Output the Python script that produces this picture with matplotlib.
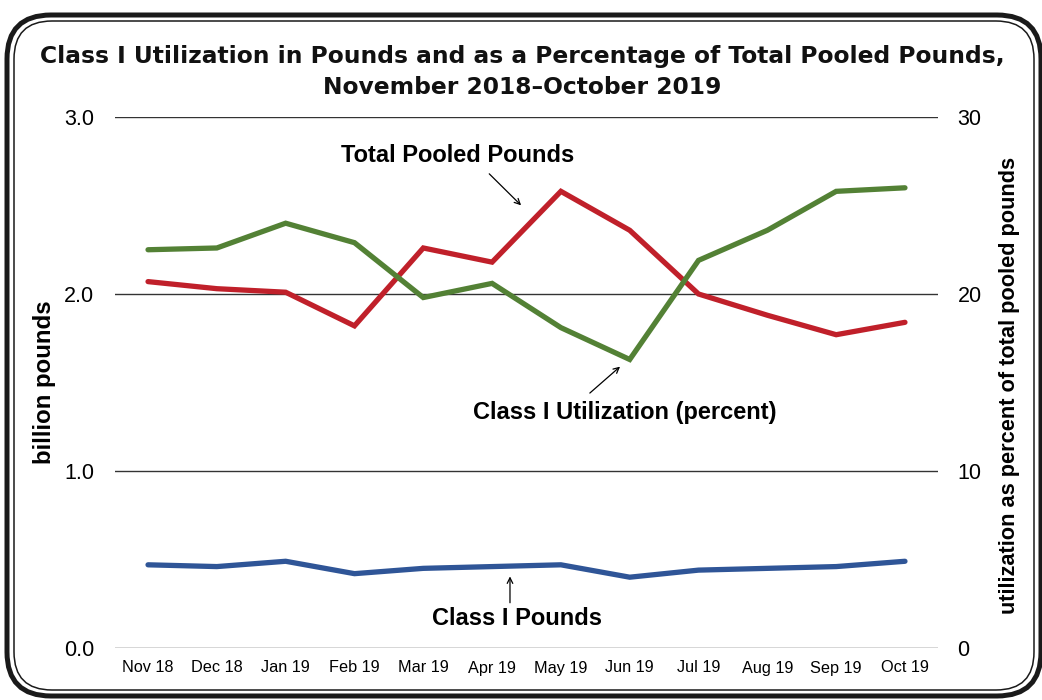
import matplotlib.pyplot as plt
from matplotlib.patches import FancyBboxPatch

# data
months = ['Nov 18', 'Dec 18', 'Jan 19', 'Feb 19', 'Mar 19', 'Apr 19',
          'May 19', 'Jun 19', 'Jul 19', 'Aug 19', 'Sep 19', 'Oct 19']
total_pooled = [2.07, 2.03, 2.01, 1.82, 2.26, 2.18, 2.58, 2.36, 2.00, 1.88, 1.77, 1.84]
class1_pounds = [0.47, 0.46, 0.49, 0.42, 0.45, 0.46, 0.47, 0.40, 0.44, 0.45, 0.46, 0.49]
class1_pct = [22.5, 22.6, 24.0, 22.9, 19.8, 20.6, 18.1, 16.3, 21.9, 23.6, 25.8, 26.0]

red = '#C0202A'
green = '#538135'
blue = '#2F5597'
lab_font = ['Liberation Sans', 'DejaVu Sans']

fig = plt.figure(figsize=(10.42, 7), dpi=100)

# background frame (pixel coords)
bg = fig.add_axes([0, 0, 1, 1], zorder=0)
bg.set_xlim(0, 1042)
bg.set_ylim(700, 0)
bg.axis('off')
bg.add_patch(FancyBboxPatch((7, 15), 1034, 681, boxstyle='round,pad=0,rounding_size=44',
                            fill=False, ec='#1a1a1a', lw=3.6))
bg.add_patch(FancyBboxPatch((14, 21), 1020, 669, boxstyle='round,pad=0,rounding_size=38',
                            fill=False, ec='#1a1a1a', lw=1.1))

fig.text(522/1042, 1 - 57/700, 'Class I Utilization in Pounds and as a Percentage of Total Pooled Pounds,',
         ha='center', va='center', fontsize=16.8, fontweight='bold', color='#111111')
fig.text(522/1042, 1 - 88/700, 'November 2018\u2013October 2019',
         ha='center', va='center', fontsize=16.8, fontweight='bold', color='#111111')

ax = fig.add_axes([115/1042, 1 - 648/700, 823/1042, 531/700], zorder=2)
ax.patch.set_alpha(0)
x = list(range(len(months)))
ax.set_xlim(-0.48, 11.48)
ax.set_ylim(0, 3.0)
for v in [0, 1, 2, 3]:
    ax.axhline(v, color='#333333', lw=1.0, zorder=1)
ax.plot(x, total_pooled, color=red, lw=3.8, solid_capstyle='round', solid_joinstyle='miter', zorder=3)
ax.plot(x, class1_pounds, color=blue, lw=3.8, solid_capstyle='round', solid_joinstyle='miter', zorder=3)
for s in ax.spines.values():
    s.set_visible(False)
ax.set_yticks([0, 1, 2, 3])
ax.set_yticklabels(['0.0', '1.0', '2.0', '3.0'], fontsize=15.5, family=lab_font)
ax.set_xticks(x)
ax.set_xticklabels(months, fontsize=11.7, family=lab_font)
ax.tick_params(length=0, pad=9)
ax.tick_params(axis='y', pad=15)

ax2 = ax.twinx()
ax2.set_ylim(0, 30)
ax2.plot(x, class1_pct, color=green, lw=3.8, solid_capstyle='round', solid_joinstyle='miter', zorder=3)
for s in ax2.spines.values():
    s.set_visible(False)
ax2.set_yticks([0, 10, 20, 30])
ax2.set_yticklabels(['0', '10', '20', '30'], fontsize=15.5, family=lab_font)
ax2.tick_params(length=0, pad=14)

fig.text(45/1042, 1 - 382/700, 'billion pounds', rotation=90, ha='center', va='center',
         fontsize=17.3, fontweight='bold', family=lab_font)
fig.text(1010/1042, 1 - 385/700, 'utilization as percent of total pooled pounds', rotation=90,
         ha='center', va='center', fontsize=15.7, fontweight='bold', family=lab_font)

arrow = dict(arrowstyle='->', color='black', lw=0.9)
ax.annotate('', xy=(5.45, 2.49), xytext=(4.93, 2.69), arrowprops=arrow)
ax.text(4.50, 2.785, 'Total Pooled Pounds', ha='center', va='center', fontsize=17,
        fontweight='bold', family=lab_font)
ax.annotate('', xy=(6.89, 1.60), xytext=(6.39, 1.43), arrowprops=arrow)
ax.text(6.93, 1.333, 'Class I Utilization (percent)', ha='center', va='center', fontsize=17,
        fontweight='bold', family=lab_font)
ax.annotate('', xy=(5.26, 0.42), xytext=(5.26, 0.24), arrowprops=arrow)
ax.text(5.36, 0.164, 'Class I Pounds', ha='center', va='center', fontsize=17,
        fontweight='bold', family=lab_font)

fig.savefig('out.png', dpi=100)
